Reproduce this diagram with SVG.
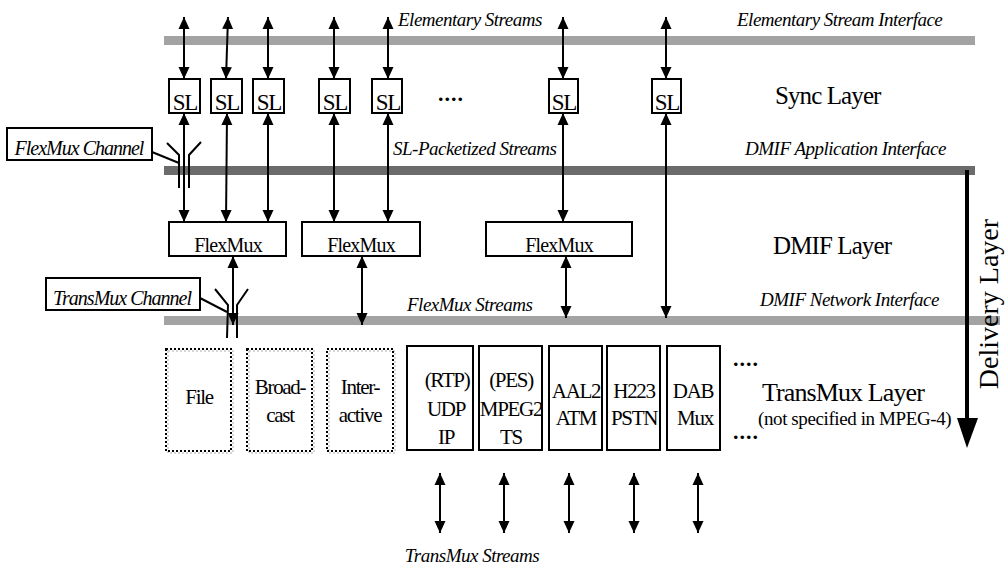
<svg xmlns="http://www.w3.org/2000/svg" width="1005" height="569" viewBox="0 0 1005 569">
<defs>
<marker id="ah" markerWidth="12" markerHeight="12" refX="12" refY="6" orient="auto-start-reverse" markerUnits="userSpaceOnUse"><path d="M0,0.5 L12,6 L0,11.5 z" fill="#000"/></marker>
<style>
.bar-l{fill:#a3a3a3}
.bar-d{fill:#6b6b6b}
.box{fill:#fff;stroke:#000;stroke-width:2}
.dbox{fill:none;stroke:#000;stroke-width:2;stroke-dasharray:2 2}
.dsh{fill:none;stroke:#c8c8c8;stroke-width:1.5;stroke-dasharray:2 2}
.ln{stroke:#000;stroke-width:2;fill:none}
.arr{stroke:#000;stroke-width:2;fill:none;marker-start:url(#ah);marker-end:url(#ah)}
.t{font-family:"Liberation Serif","Times New Roman",serif;fill:#000}
.it{font-family:"Liberation Serif","Times New Roman",serif;font-style:italic;font-size:19px;letter-spacing:-0.5px;fill:#000}
.sl{font-size:23px;letter-spacing:-1.2px;text-anchor:middle}
.fm{font-size:20px;letter-spacing:-0.8px;text-anchor:middle}
.bx{font-size:21px;letter-spacing:-1.3px;text-anchor:middle}
.lay{font-size:25px;letter-spacing:-0.9px}
.dots{font-size:22px;font-weight:bold;letter-spacing:1px;text-anchor:middle}
</style>
</defs>
<rect width="1005" height="569" fill="#fff"/>
<g id="bars">
<rect class="bar-l" x="164" y="36" width="811" height="9"/>
<rect class="bar-d" x="164" y="166" width="811" height="9"/>
<rect class="bar-l" x="164" y="316" width="836" height="9"/>
</g>
<g id="interface-labels">
<text class="it" x="398" y="26">Elementary Streams</text>
<text class="it" x="737" y="26">Elementary Stream Interface</text>
<text class="it" x="393" y="155">SL-Packetized Streams</text>
<text class="it" x="745" y="155">DMIF Application Interface</text>
<text class="it" x="407" y="311">FlexMux Streams</text>
<text class="it" x="760" y="306">DMIF Network Interface</text>
<text class="it" x="472" y="562" text-anchor="middle">TransMux Streams</text>
</g>
<g id="layer-labels">
<text class="t lay" x="775" y="104">Sync Layer</text>
<text class="t lay" x="773" y="254">DMIF Layer</text>
<text class="t lay" x="762" y="401" style="font-size:26px">TransMux Layer</text>
<text class="t" x="758" y="425" style="font-size:19px;letter-spacing:-0.4px">(not specified in MPEG-4)</text>
<text class="t" x="998" y="304" transform="rotate(-90 998 304)" text-anchor="middle" style="font-size:28px">Delivery Layer</text>
<text class="t dots" x="451" y="101">....</text>
<text class="t dots" x="746" y="366">....</text>
<text class="t dots" x="746" y="439">....</text>
</g>
<g id="connectors">
<line class="arr" x1="184" y1="17" x2="184" y2="79"/>
<line class="arr" x1="228" y1="17" x2="226" y2="79"/>
<line class="arr" x1="268" y1="17" x2="268" y2="79"/>
<line class="arr" x1="334" y1="17" x2="334" y2="79"/>
<line class="arr" x1="388" y1="17" x2="388" y2="79"/>
<line class="arr" x1="563" y1="17" x2="563" y2="79"/>
<line class="arr" x1="666" y1="17" x2="666" y2="79"/>
<line class="arr" x1="184" y1="113" x2="184" y2="222"/>
<line class="arr" x1="227" y1="113" x2="226" y2="222"/>
<line class="arr" x1="268" y1="113" x2="268" y2="222"/>
<line class="arr" x1="334" y1="113" x2="334" y2="222"/>
<line class="arr" x1="388" y1="113" x2="388" y2="222"/>
<line class="arr" x1="563" y1="113" x2="563" y2="222"/>
<line class="arr" x1="666" y1="113" x2="666" y2="318"/>
<line class="arr" x1="233" y1="256" x2="233" y2="325"/>
<line class="arr" x1="362" y1="256" x2="362" y2="325"/>
<line class="arr" x1="566" y1="256" x2="566" y2="318"/>
<line class="arr" x1="440" y1="473" x2="440" y2="533"/>
<line class="arr" x1="504" y1="473" x2="504" y2="533"/>
<line class="arr" x1="569" y1="473" x2="569" y2="533"/>
<line class="arr" x1="634" y1="473" x2="634" y2="533"/>
<line class="arr" x1="698" y1="473" x2="698" y2="533"/>
<line x1="967" y1="170" x2="967" y2="420" stroke="#000" stroke-width="4"/>
<polygon points="957,418 978,418 967,448" fill="#000"/>
<line class="ln" x1="152" y1="152" x2="179" y2="163"/>
<polyline class="ln" points="167,143 179,155 179,188"/>
<polyline class="ln" points="201,142 189,155 189,188"/>
<line class="ln" x1="200" y1="298" x2="227" y2="312"/>
<polyline class="ln" points="215,289 228,305 227,338"/>
<polyline class="ln" points="248,289 237,305 237,338"/>
</g>
<g id="callout-flexmux-channel">
<rect class="box" x="7" y="128" width="145" height="32"/>
<text class="it" x="79" y="155" text-anchor="middle" style="font-size:20px;letter-spacing:-1px">FlexMux Channel</text>
</g>
<g id="callout-transmux-channel">
<rect class="box" x="46" y="278" width="154" height="32"/>
<text class="it" x="122" y="305" text-anchor="middle" style="font-size:20px;letter-spacing:-1px">TransMux Channel</text>
</g>
<g id="sl1"><rect class="box" x="169" y="79" width="31" height="34"/><text class="t sl" x="185" y="110">SL</text></g>
<g id="sl2"><rect class="box" x="211" y="79" width="31" height="34"/><text class="t sl" x="227" y="110">SL</text></g>
<g id="sl3"><rect class="box" x="253" y="79" width="31" height="34"/><text class="t sl" x="269" y="110">SL</text></g>
<g id="sl4"><rect class="box" x="319" y="79" width="31" height="34"/><text class="t sl" x="335" y="110">SL</text></g>
<g id="sl5"><rect class="box" x="372" y="79" width="30" height="34"/><text class="t sl" x="388" y="110">SL</text></g>
<g id="sl6"><rect class="box" x="549" y="79" width="29" height="34"/><text class="t sl" x="564" y="110">SL</text></g>
<g id="sl7"><rect class="box" x="652" y="79" width="29" height="34"/><text class="t sl" x="667" y="110">SL</text></g>
<g id="flexmux1"><rect class="box" x="169" y="222" width="117" height="34"/><text class="t fm" x="228" y="252">FlexMux</text></g>
<g id="flexmux2"><rect class="box" x="302" y="222" width="118" height="34"/><text class="t fm" x="361" y="252">FlexMux</text></g>
<g id="flexmux3"><rect class="box" x="486" y="222" width="146" height="34"/><text class="t fm" x="559" y="252">FlexMux</text></g>
<g id="file"><rect class="dsh" x="168" y="351" width="65" height="102"/><rect class="dbox" x="166" y="349" width="65" height="102"/><text class="t bx" x="199" y="404">File</text></g>
<g id="broadcast"><rect class="dsh" x="249" y="351" width="65" height="102"/><rect class="dbox" x="247" y="349" width="65" height="102"/><text class="t bx" x="280" y="394">Broad-</text><text class="t bx" x="280" y="422">cast</text></g>
<g id="interactive"><rect class="dsh" x="329" y="351" width="66" height="102"/><rect class="dbox" x="327" y="349" width="66" height="102"/><text class="t bx" x="360" y="394">Inter-</text><text class="t bx" x="360" y="422">active</text></g>
<g id="udp-ip"><rect class="box" x="407" y="346" width="66" height="104"/><text class="t bx" x="447" y="387">(RTP)</text><text class="t bx" x="446" y="416">UDP</text><text class="t bx" x="446" y="444">IP</text></g>
<g id="mpeg2-ts"><rect class="box" x="479" y="346" width="63" height="104"/><text class="t bx" x="511" y="387">(PES)</text><text class="t bx" x="511" y="416">MPEG2</text><text class="t bx" x="511" y="444">TS</text></g>
<g id="aal2-atm"><rect class="box" x="549" y="346" width="53" height="104"/><text class="t bx" x="576" y="398">AAL2</text><text class="t bx" x="576" y="425">ATM</text></g>
<g id="h223-pstn"><rect class="box" x="607" y="346" width="53" height="104"/><text class="t bx" x="634" y="398">H223</text><text class="t bx" x="634" y="425">PSTN</text></g>
<g id="dab-mux"><rect class="box" x="667" y="346" width="53" height="104"/><text class="t bx" x="693" y="398">DAB</text><text class="t bx" x="695" y="425">Mux</text></g>
</svg>
